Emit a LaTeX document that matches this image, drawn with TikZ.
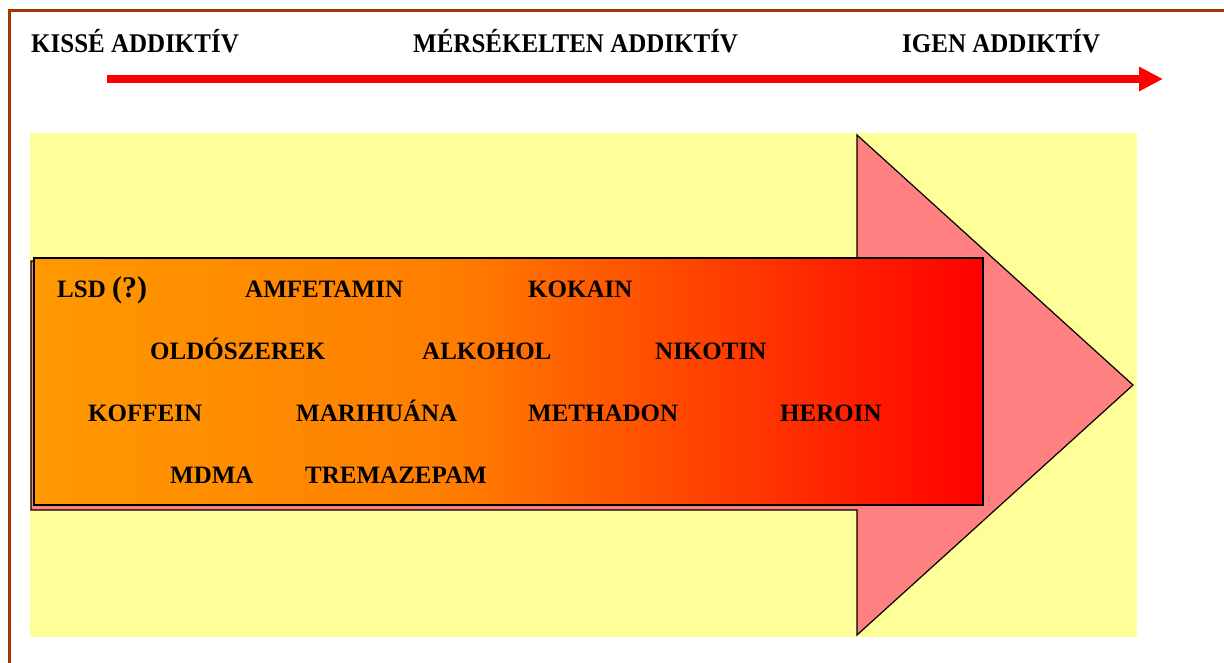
\documentclass[tikz,border=0pt]{standalone}
\usepackage{fontspec}
\setmainfont{Liberation Serif}
\usetikzlibrary{arrows.meta}
\definecolor{brownline}{RGB}{160,56,0}
\definecolor{paleyellow}{RGB}{255,255,153}
\definecolor{pinkarrow}{RGB}{255,128,128}
\definecolor{orA}{RGB}{255,153,0}
\definecolor{orB}{RGB}{255,126,0}
\definecolor{orC}{RGB}{255,0,0}
\pgfdeclarehorizontalshading{drugshade}{100bp}{color(0bp)=(orA); color(25bp)=(orA); color(47bp)=(orB); color(75bp)=(orC); color(100bp)=(orC)}
\tikzset{
  heading/.style={font=\fontsize{25}{30}\selectfont\bfseries, anchor=base west, inner sep=0pt},
  drug/.style={font=\fontsize{25}{29}\selectfont\bfseries, anchor=base west, inner sep=0pt},
}
\begin{document}
\begin{tikzpicture}[x=1pt,y=-1pt]
\useasboundingbox (0,0) rectangle (1224,663);
\fill[white] (0,0) rectangle (1224,663);
% frame
\draw[brownline, line width=3pt] (9,663) -- (9,11) -- (1224,11);
% yellow background
\fill[paleyellow] (30,133) rectangle (1137,637);
% big pink arrow
\draw[fill=pinkarrow, line width=1.2pt, line join=miter]
  (31,261) -- (857,261) -- (857,135) -- (1133,385) -- (857,635) -- (857,510) -- (31,510) -- cycle;
% gradient box
\draw[shading=drugshade, line width=2pt] (34,258) rectangle (983,505);
% headings
\node[heading] (h1) at (31,53) {\scalebox{1}[1.08]{KISSÉ ADDIKTÍV}};
\node[heading] (h2) at (413,53) {\scalebox{1}[1.08]{MÉRSÉKELTEN ADDIKTÍV}};
\node[heading] (h3) at (902,53) {\scalebox{1}[1.08]{IGEN ADDIKTÍV}};
% top red arrow
\coordinate (a0) at (107,79);
\coordinate (a1) at (1163,79);
\draw[red, line width=8pt, -{Triangle[length=24pt,width=23pt]}] (a0) -- (a1);
% drugs
\node[drug] (lsd) at (57,298) {LSD \fontsize{30}{34}\selectfont(?)};
\node[drug] (amf) at (245,298) {AMFETAMIN};
\node[drug] (kok) at (528,298) {KOKAIN};
\node[drug] (old) at (150,359) {OLDÓSZEREK};
\node[drug] (alk) at (422,359) {ALKOHOL};
\node[drug] (nik) at (655,359) {NIKOTIN};
\node[drug] (kof) at (88,421) {KOFFEIN};
\node[drug] (mar) at (296,421) {MARIHUÁNA};
\node[drug] (met) at (528,421) {METHADON};
\node[drug] (her) at (780,421) {HEROIN};
\node[drug] (mdm) at (170,483) {MDMA};
\node[drug] (tre) at (305,483) {TREMAZEPAM};
\end{tikzpicture}
\end{document}
